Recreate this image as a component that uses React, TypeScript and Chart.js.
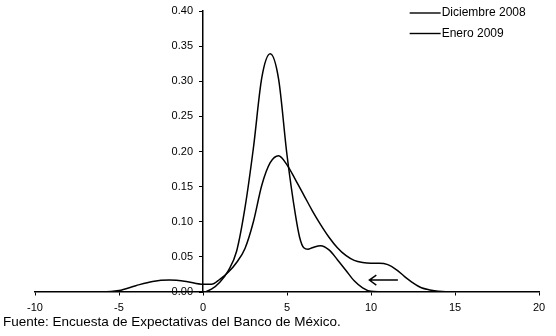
import React, { useEffect, useRef } from "react";
import { Chart, registerables } from "chart.js";

Chart.register(...registerables);

// Diciembre 2008 (broad distribution with left tail)
const decX = [-10, -6, -5, -4, -3, -2, -1, 0, 0.5, 1, 1.5, 2, 2.5, 3, 3.5, 4, 4.5, 5, 5.5, 6, 6.5, 7, 7.5, 8, 8.5, 9, 9.5, 10, 10.5, 11, 11.5, 12, 12.5, 13, 13.5, 14, 15, 20];
const decY = [0, 0, 0.002, 0.009, 0.015, 0.017, 0.015, 0.011, 0.011, 0.018, 0.028, 0.042, 0.062, 0.1, 0.152, 0.184, 0.194, 0.181, 0.16, 0.138, 0.116, 0.096, 0.078, 0.063, 0.052, 0.045, 0.042, 0.041, 0.041, 0.039, 0.032, 0.022, 0.013, 0.006, 0.003, 0.001, 0, 0];

// Enero 2009 (peaked distribution)
const janX = [-10, 0, 0.5, 1, 1.5, 2, 2.5, 3, 3.5, 4, 4.5, 5, 5.5, 5.75, 6, 6.25, 6.5, 7, 7.5, 8, 8.5, 9, 9.5, 10, 11, 20];
const janY = [0, 0, 0.004, 0.014, 0.03, 0.058, 0.12, 0.205, 0.305, 0.339, 0.303, 0.195, 0.11, 0.078, 0.063, 0.061, 0.063, 0.066, 0.06, 0.046, 0.031, 0.016, 0.006, 0.001, 0, 0];

const seriesNames = ["Diciembre 2008", "Enero 2009"];
const caption = "Fuente: Encuesta de Expectativas del Banco de México.";

// arrow annotation (data units): from x=11.6 to x=9.9 at y=0.017
const arrowFrom = [11.6, 0.017];
const arrowTo = [9.9, 0.017];

const FONT = "'Liberation Sans', Arial, sans-serif";

export default function App() {
  const ref = useRef<HTMLCanvasElement>(null);
  useEffect(() => {
    if (!ref.current) return;
    const toPts = (xs: number[], ys: number[]) => xs.map((x, i) => ({ x, y: ys[i] }));
    const extras = {
      id: "extras",
      afterDraw(chart: any) {
        const ctx = chart.ctx;
        const xs = chart.scales.x;
        const ys = chart.scales.y;
        ctx.save();
        ctx.strokeStyle = "#000";
        ctx.fillStyle = "#000";
        // y tick labels, left of the axis that crosses at x = 0
        const axisX = xs.getPixelForValue(0);
        ctx.font = "11px " + FONT;
        ctx.textAlign = "right";
        ctx.textBaseline = "middle";
        ys.ticks.forEach((t: any) => {
          ctx.fillText(Number(t.value).toFixed(2), axisX - 10, ys.getPixelForValue(t.value));
        });
        // arrow
        ctx.lineWidth = 1.4;
        const x1 = xs.getPixelForValue(arrowFrom[0]);
        const y1 = ys.getPixelForValue(arrowFrom[1]);
        const x2 = xs.getPixelForValue(arrowTo[0]);
        const y2 = ys.getPixelForValue(arrowTo[1]);
        ctx.beginPath();
        ctx.moveTo(x1, y1);
        ctx.lineTo(x2, y2);
        ctx.moveTo(x2 + 7, y2 - 5);
        ctx.lineTo(x2, y2);
        ctx.lineTo(x2 + 7, y2 + 5);
        ctx.stroke();
        // legend
        ctx.font = "12px " + FONT;
        ctx.textAlign = "left";
        const lx = xs.getPixelForValue(12.3);
        seriesNames.forEach((name, i) => {
          const ly = ys.getPixelForValue(0.4) + 2 + i * 20.5;
          ctx.beginPath();
          ctx.moveTo(lx, ly);
          ctx.lineTo(lx + 31, ly);
          ctx.stroke();
          ctx.fillText(name, lx + 32, ly);
        });
        ctx.restore();
      },
    };
    const chart = new Chart(ref.current, {
      type: "line",
      data: {
        datasets: [
          { label: seriesNames[0], data: toPts(decX, decY), borderColor: "#000", borderWidth: 1.5, pointRadius: 0, cubicInterpolationMode: "monotone", fill: false },
          { label: seriesNames[1], data: toPts(janX, janY), borderColor: "#000", borderWidth: 1.5, pointRadius: 0, cubicInterpolationMode: "monotone", fill: false },
        ],
      },
      options: {
        animation: false,
        responsive: false,
        maintainAspectRatio: false,
        layout: { padding: { left: 35, right: 17, top: 11, bottom: 44 } },
        plugins: { legend: { display: false }, tooltip: { enabled: false } },
        scales: {
          x: {
            type: "linear",
            min: -10,
            max: 20,
            position: { y: 0 } as any,
            ticks: { stepSize: 5, color: "#000", font: { family: FONT, size: 11 }, padding: 6, maxRotation: 0 },
            grid: { drawOnChartArea: false, drawTicks: true, tickLength: 3, color: "#000" },
            border: { color: "#000", width: 1.5 },
          },
          y: {
            type: "linear",
            min: 0,
            max: 0.4,
            position: { x: 0 } as any,
            ticks: { stepSize: 0.05, display: false },
            grid: { drawOnChartArea: false, drawTicks: true, tickLength: 3, color: "#000" },
            border: { color: "#000", width: 1.5 },
          },
        },
      },
      plugins: [extras],
    });
    return () => chart.destroy();
  }, []);
  return (
    <div style={{ position: "fixed", left: 0, top: 0, width: 556, height: 336, background: "#fff" }}>
      <canvas ref={ref} width={556} height={336} style={{ position: "absolute", left: 0, top: 0 }} />
      <div style={{ position: "absolute", left: 3, top: 314, fontFamily: FONT, fontSize: 13.5, color: "#000", whiteSpace: "nowrap" }}>{caption}</div>
    </div>
  );
}
